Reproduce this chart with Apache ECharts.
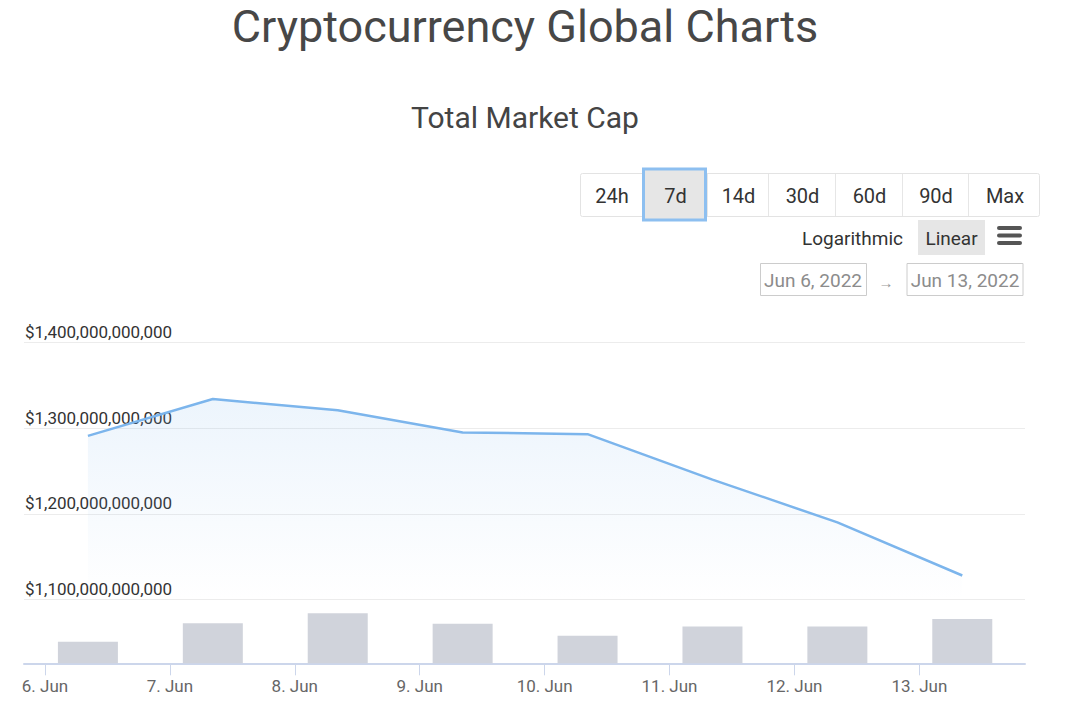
<!DOCTYPE html>
<html>
<head>
<meta charset="utf-8">
<script src="https://cdn.jsdelivr.net/npm/echarts@6/dist/echarts.min.js"></script>
<style>
html,body{margin:0;padding:0;background:#fff;}
#chart{width:1080px;height:724px;}
</style>
</head>
<body>
<div id="chart"></div>
<script>
// ---- data ----
const dayLabels = ['6. Jun', '7. Jun', '8. Jun', '9. Jun', '10. Jun', '11. Jun', '12. Jun', '13. Jun'];
const days = [6, 7, 8, 9, 10, 11, 12, 13];              // June 2022
const marketCapBillions = [1291, 1334, 1321, 1295, 1293, 1240, 1190, 1128];
const volumeBillions = [54, 100, 125, 99, 69, 92, 92, 111];
const yTicksBillions = [1100, 1200, 1300, 1400];
const rangeButtons = ['24h', '7d', '14d', '30d', '60d', '90d', 'Max'];
const dateFrom = 'Jun 6, 2022';
const dateTo = 'Jun 13, 2022';

// ---- build ----
const H = 3600 * 1000;
const dayStart = d => Date.UTC(2022, 5, d);
const pointTimes = days.map(d => dayStart(d) + 8.25 * H);
const xMin = dayStart(5) + 19.97 * H;
const xMax = dayStart(13) + 20.3 * H;
const tickTimes = days.map(dayStart);

const lineData = pointTimes.map((t, i) => [t, marketCapBillions[i]]);
const barData = pointTimes.map((t, i) => [t, volumeBillions[i]]);

const FONT = 'Roboto, "Noto Sans", sans-serif';

function fmtMoney(v) {
  return '$' + (Math.round(v) * 1e9).toLocaleString('en-US');
}

// buttons
const btnEdges = [580, 642, 707, 768, 835, 902, 968, 1040];
const graphics = [];
graphics.push({type: 'rect', shape: {x: 580.5, y: 173.5, width: 459, height: 43, r: 2},
  style: {fill: '#fff', stroke: '#e3e3e3', lineWidth: 1}});
for (let i = 1; i < btnEdges.length - 1; i++) {
  graphics.push({type: 'line', shape: {x1: btnEdges[i] + 0.5, y1: 174, x2: btnEdges[i] + 0.5, y2: 216},
    style: {stroke: '#e6e6e6', lineWidth: 1}});
}
graphics.push({type: 'rect', shape: {x: 643.5, y: 169, width: 62, height: 51},
  style: {fill: '#e6e6e6', stroke: '#8dbff0', lineWidth: 3}});
rangeButtons.forEach((b, i) => {
  graphics.push({type: 'text', x: (btnEdges[i] + btnEdges[i + 1]) / 2 + 1, y: 196,
    style: {text: b, fill: '#333', font: '20px ' + FONT, align: 'center', verticalAlign: 'middle'}});
});
graphics.push({type: 'text', x: 852.5, y: 238,
  style: {text: 'Logarithmic', fill: '#333', font: '19px ' + FONT, align: 'center', verticalAlign: 'middle'}});
graphics.push({type: 'rect', shape: {x: 918, y: 220, width: 67, height: 35},
  style: {fill: '#e6e6e6'}});
graphics.push({type: 'text', x: 951.5, y: 238,
  style: {text: 'Linear', fill: '#333', font: '19px ' + FONT, align: 'center', verticalAlign: 'middle'}});
[226, 233.5, 241].forEach(y => {
  graphics.push({type: 'rect', shape: {x: 997, y: y, width: 25, height: 4, r: 2}, style: {fill: '#555'}});
});
graphics.push({type: 'rect', shape: {x: 760.5, y: 263.5, width: 106, height: 32},
  style: {fill: '#fff', stroke: '#cccccc', lineWidth: 1}});
graphics.push({type: 'text', x: 813, y: 280,
  style: {text: dateFrom, fill: '#8c8c8c', font: '19px ' + FONT, align: 'center', verticalAlign: 'middle'}});
graphics.push({type: 'text', x: 886, y: 283,
  style: {text: '→', fill: '#999', font: '15px ' + FONT, align: 'center', verticalAlign: 'middle'}});
graphics.push({type: 'rect', shape: {x: 907, y: 263.5, width: 116, height: 32},
  style: {fill: '#fff', stroke: '#cccccc', lineWidth: 1}});
graphics.push({type: 'text', x: 965, y: 280,
  style: {text: dateTo, fill: '#8c8c8c', font: '19px ' + FONT, align: 'center', verticalAlign: 'middle'}});

const chart = echarts.init(document.getElementById('chart'), null, {renderer: 'svg', width: 1080, height: 724});

chart.setOption({
  animation: false,
  backgroundColor: '#fff',
  textStyle: {fontFamily: FONT},
  title: [
    {text: 'Cryptocurrency Global Charts', left: 525, top: 3, textAlign: 'center', padding: 0,
      textStyle: {fontSize: 45, lineHeight: 46, fontWeight: 'normal', color: '#474747', fontFamily: FONT}},
    {text: 'Total Market Cap', left: 525, top: 102, textAlign: 'center', padding: 0,
      textStyle: {fontSize: 30, fontWeight: 'normal', color: '#444', fontFamily: FONT}}
  ],
  graphic: graphics,
  grid: [
    {left: 24, right: 55, top: 342.5, height: 257, containLabel: false},
    {left: 24, right: 55, top: 603.3, height: 60, containLabel: false}
  ],
  xAxis: [
    {type: 'value', gridIndex: 0, min: xMin, max: xMax, show: false, splitLine: {show: false}},
    {type: 'value', gridIndex: 1, min: xMin, max: xMax,
      axisLine: {show: true, lineStyle: {color: '#ccd6eb', width: 2}},
      axisTick: {show: true, length: 12, customValues: tickTimes, lineStyle: {color: '#ccd6eb', width: 1}},
      axisLabel: {customValues: tickTimes, margin: 14, color: '#666', fontSize: 17, fontFamily: FONT,
        formatter: v => dayLabels[days.indexOf(new Date(v).getUTCDate())]},
      splitLine: {show: false}}
  ],
  yAxis: [
    {type: 'value', gridIndex: 0, min: yTicksBillions[0], max: yTicksBillions[yTicksBillions.length - 1], interval: 100,
      position: 'left',
      axisLine: {show: false}, axisTick: {show: false},
      axisLabel: {inside: true, margin: 1, align: 'left', verticalAlign: 'bottom', padding: [0, 0, 2, 0],
        color: '#333', fontSize: 17, fontFamily: FONT, formatter: fmtMoney},
      splitLine: {show: true, lineStyle: {color: '#ececec', width: 1}}},
    {type: 'value', gridIndex: 1, min: 0, max: 150, show: false, splitLine: {show: false}}
  ],
  series: [
    {type: 'line', name: 'Market Cap', xAxisIndex: 0, yAxisIndex: 0, data: lineData,
      showSymbol: false, symbol: 'none',
      lineStyle: {color: '#7cb5ec', width: 2.5},
      areaStyle: {origin: 'start', color: new echarts.graphic.LinearGradient(0, 0, 0, 1, [
        {offset: 0, color: 'rgba(124,181,236,0.2)'},
        {offset: 1, color: 'rgba(124,181,236,0)'}
      ])},
      z: 3},
    {type: 'bar', name: 'Volume', xAxisIndex: 1, yAxisIndex: 1, data: barData,
      barWidth: 60, itemStyle: {color: '#d0d3db'}}
  ]
});
</script>
</body>
</html>
